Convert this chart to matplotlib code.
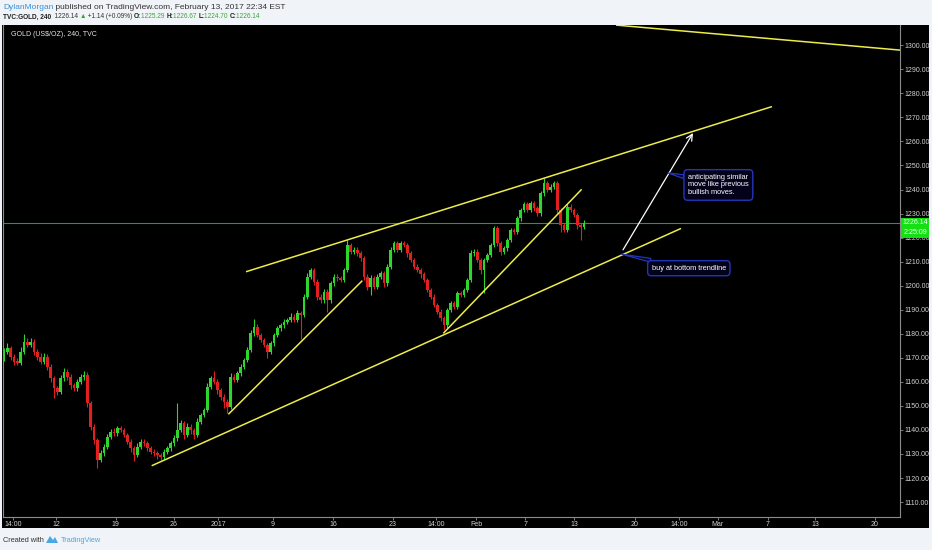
import matplotlib
matplotlib.use("Agg")
import matplotlib.pyplot as plt
from matplotlib.patches import Rectangle, Polygon
from matplotlib import font_manager
import numpy as np

plt.rcParams['font.family'] = ['Liberation Sans', 'DejaVu Sans']
_names = {f.name for f in font_manager.fontManager.ttflist}
NARROW = 'Liberation Sans Narrow' if 'Liberation Sans Narrow' in _names else 'Liberation Sans'

# ---------------- data ----------------
first_open = 1170.0
closes = [
    1172.5, 1174.0, 1170.5, 1168.4, 1168.0, 1172.5, 1176.7, 1175.3, 1176.7, 1172.5,
    1170.5, 1168.4, 1170.5, 1166.3, 1161.5, 1157.3, 1155.9, 1161.5, 1164.2, 1162.1,
    1158.7, 1157.3, 1160.1, 1161.9, 1162.9,
    1151.1, 1141.3, 1135.8, 1127.5, 1130.3, 1133.0, 1137.2, 1139.3, 1138.6, 1140.7,
    1140.0, 1137.9, 1135.1, 1132.4, 1129.6, 1133.0, 1135.1, 1134.4, 1132.4, 1130.9,
    1130.3, 1129.6, 1128.9, 1130.9, 1132.4,
    1134.4, 1136.5, 1140.0, 1142.8, 1137.9, 1141.3, 1140.0, 1137.9, 1143.4, 1146.2,
    1148.3, 1158.0, 1161.5, 1160.1, 1156.6, 1153.8, 1151.7, 1149.7, 1162.1, 1160.8,
    1163.6, 1166.3, 1169.1, 1173.3, 1180.2,
    1183.0, 1179.5, 1177.4, 1175.3, 1172.5, 1176.0, 1179.5, 1182.3, 1183.6, 1185.0,
    1185.7, 1187.1, 1185.7, 1188.5, 1187.8, 1195.4, 1203.7, 1206.5, 1201.7, 1195.4,
    1194.0, 1197.5, 1194.0, 1201.0, 1203.7,
    1203.1, 1202.4, 1206.5, 1216.9, 1214.1, 1214.9, 1213.5, 1211.4, 1203.7, 1199.6,
    1203.1, 1199.6, 1203.7, 1205.2, 1201.0, 1207.9, 1214.9, 1217.6, 1214.9, 1217.6,
    1216.9, 1213.5, 1210.7, 1207.9, 1206.5,
    1204.8, 1202.4, 1198.2, 1195.4, 1192.0, 1189.2, 1186.4, 1183.6, 1189.9, 1192.7,
    1191.3, 1196.8, 1196.1, 1198.2, 1202.4, 1213.5, 1214.1, 1210.7, 1206.5, 1210.7,
    1212.8, 1216.9, 1223.9, 1217.6, 1214.1,
    1215.5, 1219.0, 1223.2, 1222.5, 1228.0, 1231.5, 1234.0, 1231.5, 1234.3, 1232.2,
    1230.1, 1238.4, 1242.6, 1239.8, 1241.2, 1242.6, 1231.5, 1225.2, 1223.2, 1232.9,
    1231.5, 1229.4, 1225.2, 1224.5, 1226.14,
]
wick_up = [
    1.5, 2, 1, 1, 1.5, 2, 3.3, 1.5, 1.5, 1, 1, 1.5, 1.5, 1, 1, 1, 1, 1.5, 1.5, 1, 1, 1, 1, 1.5, 1.5,
    1, 1, 1, 1, 1.5, 1, 1, 1, 1.5, 1, 1, 1, 1, 1, 1, 1.5, 1, 1, 1, 1, 1, 1, 1, 1, 1,
    1, 1.5, 11, 1.5, 1, 1.5, 1, 1, 1.5, 1, 1, 1.5, 1, 3, 1, 1, 1, 1, 1.5, 1, 1, 1, 1, 1, 1.5,
    3, 1, 1, 1, 1, 1, 1, 1, 1, 1, 1, 1.5, 1, 1.5, 1, 1, 1.5, 1, 1, 1, 1, 1, 1, 1, 1,
    1, 1, 1, 2, 1, 1, 1, 1, 1, 1, 1.5, 1, 1, 1, 1, 1, 1, 1, 1, 1, 1, 1, 1, 1, 1,
    1, 1, 1, 1, 1, 1, 1, 1, 1, 1, 1, 1, 1, 1, 1, 1.5, 1, 1, 1, 1, 1, 1, 1, 1, 1,
    1, 1, 1, 1, 1, 1, 1, 1, 1, 1, 1, 1, 2.4, 1, 1, 1, 1, 1, 1, 1, 1, 1, 1, 1, 1,
]
wick_dn = [
    1.5, 1, 1.5, 1.5, 1, 1, 1, 1, 1, 1.5, 1.5, 1, 1, 1.5, 1.5, 4, 1.5, 1, 1, 1.5, 1.5, 1, 1, 1, 1,
    1.5, 1.5, 1.5, 3.5, 1, 1, 1, 1, 1, 1, 1, 1, 1, 1.5, 2.5, 1, 1, 1, 1, 1, 1, 1.5, 1.5, 1, 1,
    1, 1, 1, 1, 1.5, 1, 1.5, 1.5, 1, 1, 1, 1, 1, 1, 1.5, 1.5, 2.5, 2.5, 1, 1, 1, 1, 1, 1, 1,
    1, 1, 1, 1, 2.5, 1, 1, 1, 1, 1, 1, 1, 1, 1, 9.8, 1, 1, 1, 1.5, 1.5, 1, 1, 5, 1, 1,
    1, 1, 1, 1, 1, 1, 1, 1, 1.5, 1.5, 3.6, 1, 1, 1, 1.5, 1, 1, 1, 1, 1, 1, 1.5, 1, 1, 1,
    1.5, 1, 1, 1, 1, 1, 1, 2, 1, 1, 1, 1, 1, 1, 1, 1, 1, 1, 1.5, 9.5, 1, 1, 1, 1, 1.5,
    1, 1, 1, 1, 1, 1, 1, 1, 1, 1, 1, 1, 1, 1, 1, 1, 1.5, 3, 1, 1, 1, 1, 1.5, 5.5, 1,
]

# time-axis labels (positions in bar index units)
xtick_pos = [2.7, 15.75, 33.45, 51.0, 64.2, 80.7, 98.7, 116.7, 129.75, 141.6,
             156.45, 171.0, 189.3, 202.5, 214.2, 229.05, 243.3, 261.3]
xtick_lab = ["14:00", "12", "19", "26", "2017", "9", "16", "23", "14:00", "Feb",
             "7", "13", "20", "14:00", "Mar", "7", "13", "20"]
ytick_vals = list(range(1110, 1301, 10))

# drawn trend lines: (bar index, price) pairs
channel_top = [(72.6, 1205.8), (230.4, 1274.5)]
channel_bottom = [(44.3, 1125.1), (203.1, 1223.8)]
upper_right = [(183.6, 1308.4), (268.8, 1298.0)]
short_trend1 = [(67.3, 1146.5), (107.5, 1202.1)]
short_trend2 = [(131.8, 1180.2), (173.3, 1240.1)]
projection_arrow = [(185.7, 1214.9), (206.7, 1263.5)]

note_top_text = "anticipating similar\nmove like previous\nbullish moves."
note_top_tip = (199.2, 1246.9)
note_bottom_text = "buy at bottom trendline"
note_bottom_tip = (185.3, 1213.1)

last_price = 1226.14
countdown = "2:25:09"

author = "DylanMorgan"
pub_text = " published on TradingView.com, February 13, 2017 22:34 EST"
symbol = "TVC:GOLD, 240"
chg_text = " +1.14 (+0.09%) "
ohlc = [("O:", "1225.29"), ("H:", "1226.67"), ("L:", "1224.70"), ("C:", "1226.14")]
chart_title = "GOLD (US$/OZ), 240, TVC"

# ---------------- figure ----------------
W, H = 932, 550
fig = plt.figure(figsize=(W / 100, H / 100), dpi=100)
fig.patch.set_facecolor('#f0f3f7')


def fx(px):
    return px / W


def fy(py):
    return 1 - py / H


# black chart frame incl. axis strips
fig.add_artist(Rectangle((fx(2), fy(528)), 927 / W, 503 / H, transform=fig.transFigure,
                         facecolor='black', edgecolor='none', zorder=0))

ax = fig.add_axes([fx(3), fy(517), 897 / W, 492 / H])
ax.set_facecolor('black')
ax.set_xlim(-0.3, 268.8)
ax.set_ylim(1103.78, 1308.44)

GREEN = '#2bd82b'
RED = '#e41f1f'

opens = [first_open] + closes[:-1]
o = np.array(opens)
c = np.array(closes)
hi = np.maximum(o, c) + np.array(wick_up)
lo = np.minimum(o, c) - np.array(wick_dn)
idx = np.arange(len(closes))
cols = [GREEN if cc >= oo else RED for oo, cc in zip(o, c)]
ax.vlines(idx, lo, hi, colors=cols, linewidth=0.8, zorder=2)
body_bottom = np.minimum(o, c)
body_h = np.maximum(np.abs(c - o), 0.5)
ax.bar(idx, body_h, bottom=body_bottom, width=0.72, color=cols, linewidth=0, zorder=3)

# last price line
ax.axhline(last_price, color='#23a023', lw=0.8, zorder=1)

# trend lines
YEL = '#ecec4a'
for ln in (channel_top, channel_bottom, upper_right, short_trend1, short_trend2):
    (x0, y0), (x1, y1) = ln
    ax.plot([x0, x1], [y0, y1], color=YEL, lw=1.1, solid_capstyle='butt', zorder=4)

# projection arrow
(ax0, ay0), (ax1, ay1) = projection_arrow
ax.annotate('', xy=(ax1, ay1), xytext=(ax0, ay0),
            arrowprops=dict(arrowstyle='->,head_length=0.45,head_width=0.22',
                            color='white', lw=0.9, shrinkA=0, shrinkB=0), zorder=5)

# callouts
box_style = dict(boxstyle='round,pad=0.55,rounding_size=0.5', fc='#02021a', ec='#2436b8', lw=1.0)
ax.annotate(note_top_text, xy=note_top_tip, xytext=(20, -12), textcoords='offset pixels',
            color='white', fontsize=5.3, ha='left', va='center', linespacing=1.15,
            bbox=box_style, zorder=6,
            arrowprops=dict(arrowstyle='wedge,tail_width=0.5,shrink_factor=0.5',
                            fc='#02021a', ec='#2436b8', lw=0.9, shrinkA=0, shrinkB=0))
ax.annotate(note_bottom_text, xy=note_bottom_tip, xytext=(30, -14), textcoords='offset pixels',
            color='white', fontsize=5.3, ha='left', va='center',
            bbox=box_style, zorder=6,
            arrowprops=dict(arrowstyle='wedge,tail_width=0.5,shrink_factor=0.5',
                            fc='#02021a', ec='#2436b8', lw=0.9, shrinkA=0, shrinkB=0))

# axes styling
AX_COL = '#8c8c8c'
TXT_COL = '#d2d2d2'
ax.spines['top'].set_visible(False)
for s in ('left', 'right', 'bottom'):
    ax.spines[s].set_color(AX_COL)
    ax.spines[s].set_linewidth(0.8)

ax.yaxis.tick_right()
ax.set_yticks(ytick_vals)
ax.set_yticklabels([f"{v:.2f}" for v in ytick_vals])
ax.tick_params(axis='y', direction='out', length=2.5, width=0.6, color=AX_COL,
               labelsize=5, labelcolor=TXT_COL, pad=1)
ax.set_xticks(xtick_pos)
ax.set_xticklabels(xtick_lab)
ax.tick_params(axis='x', direction='out', length=2, width=0.6, color=AX_COL,
               labelsize=5, labelcolor=TXT_COL, pad=1)

# price labels on the right scale
ax.text(1.0 + 15 / 897, last_price, f"{last_price:.2f}", transform=ax.get_yaxis_transform(),
        fontsize=5, color='white', ha='center', va='center', zorder=10, clip_on=False,
        bbox=dict(boxstyle='square,pad=0.25', fc='#14e014', ec='none'))
ax.annotate(countdown, xy=(1.0 + 15 / 897, last_price), xycoords=ax.get_yaxis_transform(),
            xytext=(0, -9.5), textcoords='offset pixels', fontsize=5, color='white',
            ha='center', va='center', zorder=10, annotation_clip=False,
            bbox=dict(boxstyle='square,pad=0.25', fc='#14e014', ec='none'))

ax.text(8 / 897, 1 - 10 / 492, chart_title, transform=ax.transAxes, fontsize=5,
        color='#e6e6e6', ha='left', va='center')

# ---------------- header / footer ----------------
renderer = fig.canvas.get_renderer()


def seq_text(x_px, y_px, pieces, size, family=None, target=None):
    arts = []
    x = x_px
    for s, col, wt in pieces:
        kw = {} if family is None else {'family': [family, 'DejaVu Sans']}
        t = fig.text(fx(x), fy(y_px), s, color=col, fontweight=wt, fontsize=size,
                     ha='left', va='center', **kw)
        arts.append(t)
        x += t.get_window_extent(renderer).width
    return x


seq_text(3, 7.5, [(author, '#3a8fd6', 'normal'), (pub_text, '#333333', 'normal')], 6)
pieces = [(symbol, '#1e1e1e', 'bold'), (f"  {last_price:.2f} ", '#333333', 'normal'),
          ("▲", '#2ea52e', 'normal'), (chg_text, '#333333', 'normal')]
for k, v in ohlc:
    pieces.append((k, '#1e1e1e', 'bold'))
    pieces.append((v + " ", '#3aa63a', 'normal'))
line2_size = 5.6 if NARROW != 'Liberation Sans' else 4.7
seq_text(3, 17, pieces, line2_size, family=NARROW)

fig.text(fx(3), fy(540), "Created with", fontsize=5.3, color='#333333', ha='left', va='center')
# small logo mark
fig.add_artist(Polygon([(fx(46), fy(543)), (fx(50), fy(536)), (fx(53), fy(540)),
                        (fx(55), fy(537)), (fx(58), fy(543))], closed=True,
                       transform=fig.transFigure, fc='#4aa8e0', ec='none'))
fig.text(fx(61), fy(540), "TradingView", fontsize=5.3, color='#4aa8e0', ha='left', va='center')

fig.savefig('out.png', dpi=100, facecolor=fig.get_facecolor())
